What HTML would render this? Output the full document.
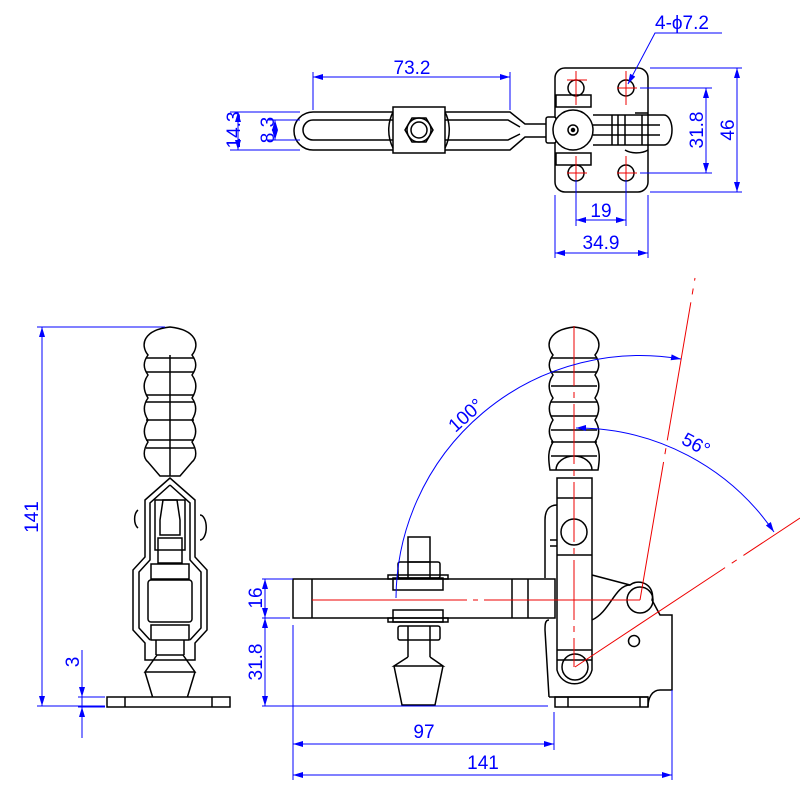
<!DOCTYPE html>
<html><head><style>body{margin:0;background:#fff}svg{display:block}</style></head><body>
<svg width="800" height="800" viewBox="0 0 800 800" xmlns="http://www.w3.org/2000/svg" font-family="Liberation Sans, sans-serif">
<defs>
<marker id="a" viewBox="0 0 10 6" refX="10" refY="3" markerWidth="14" markerHeight="6" markerUnits="userSpaceOnUse" orient="auto-start-reverse"><path d="M0,0L10,3L0,6z" fill="#00f"/></marker>
</defs>
<g fill="none" stroke="#000" stroke-width="1.5">
<!-- TOP VIEW -->
<path d="M313,112 H510 L525,124 H555 M313,150 H510 L525,137 H555 M313,112 A19,19 0 0 0 313,150"/>
<path d="M313,120 H508 L520,127 M313,140 H508 L520,134 M313,120 A10,10 0 0 0 313,140"/>
<rect x="393" y="107" width="52" height="46" fill="#fff"/>
<path d="M393,112 A40,40 0 0 0 393,148 M445,112 A40,40 0 0 1 445,148"/>
<polygon points="405,130 412,118 426,118 433,130 426,142 412,142" fill="#fff"/>
<circle cx="419" cy="130" r="12"/><circle cx="419" cy="130" r="8"/>
<rect x="555" y="68" width="93" height="124" rx="10" fill="#fff"/>
<rect x="556" y="95" width="35" height="12" fill="#fff"/><rect x="556" y="153" width="35" height="12" fill="#fff"/>
<circle cx="576" cy="88" r="8"/><circle cx="626" cy="88" r="8"/><circle cx="576" cy="173" r="8"/><circle cx="626" cy="173" r="8"/>
<path d="M593,115 H664 A8,15 0 0 1 664,145 H593 M612,115 V145 M618,115 V145 M625,115 V145 M642,115 V145 M593,125 H660 M593,135 H660 M635,113 H648 M625,150 A15,8 0 0 0 648,150"/>
<rect x="546" y="117" width="10" height="26" rx="2" fill="#fff"/>
<circle cx="573" cy="130" r="20" fill="#fff"/><circle cx="573" cy="130" r="5"/><circle cx="573" cy="130" r="1.5" fill="#000"/>
<!-- FRONT VIEW (left) -->
<path d="M148,355 C140,345 143,330 170,327 C197,330 200,345 192,355 C197,362 197,368 192,375 C197,382 197,390 192,398 C197,405 197,412 192,420 C197,428 197,435 192,442 C197,450 197,458 192,462 L180,476 H160 L148,462 C143,458 143,450 148,442 C143,435 143,428 148,420 C143,412 143,405 148,398 C143,390 143,382 148,375 C143,368 143,362 148,355 Z"/>
<path d="M146,358 H194 M146,372 H194 M146,395 H194 M146,402 H194 M146,420 H194 M146,440 H194 M146,448 H194 M170,355 V476"/>
<path d="M170,478 L145,500 V557 L133,570 V630 L145,643 V660 H195 V643 L207,630 V570 L195,557 V500 Z"/>
<path d="M170,485 L150,503 V560 L139,572 V628 L150,640 M170,485 L190,503 V560 L201,572 V628 L190,640"/>
<rect x="155" y="500" width="30" height="50"/>
<path d="M163,500 L160,520 V535 H180 V520 L177,500 Z"/>
<rect x="158" y="538" width="24" height="25"/>
<rect x="151" y="564" width="38" height="15"/>
<rect x="148" y="580" width="44" height="42" rx="3"/>
<rect x="151" y="625" width="38" height="15"/>
<path d="M156,640 V655 M184,640 V655 M157,655 L145,672 H195 L183,655 Z M145,672 L155,705 H185 L195,672"/>
<rect x="107" y="697" width="123" height="10" fill="#fff"/>
<path d="M125,697 V707 M212,697 V707"/>
<path d="M138,510 A6,10 0 0 0 138,528 M200,515 A6,12 0 0 1 200,540"/>
<!-- SIDE VIEW -->
<path d="M553,355 C545,345 548,330 574,327 C600,330 603,345 595,355 C600,362 600,368 595,375 C600,382 600,390 595,398 C600,405 600,412 595,420 C600,428 600,435 595,442 C600,450 600,458 598,470 H550 C548,458 548,450 553,442 C548,435 548,428 553,420 C548,412 548,405 553,398 C548,390 548,382 553,375 C548,368 548,362 553,355 Z"/>
<path d="M551,358 H597 M551,372 H597 M551,386 H597 M551,402 H597 M551,416 H597 M551,430 H597 M551,442 H597 M551,456 H597 M556,470 A18,14 0 0 1 592,470"/>
<path d="M592,600 L592,478 H557 V600 M557,498 H592 M557,555 H592 M557,650 H592 M557,660 H592"/>
<path d="M557,505 C548,505 545,512 545,520 V578 M550,540 H557 M550,546 H557"/>
<circle cx="574" cy="532" r="13"/>
<path d="M592,575 L630,585 A14,14 0 0 1 652,600 L660,615 H672 V690 H660 C652,690 648,698 648,707 M592,620 C610,612 615,585 630,585"/>
<path d="M549,620 C545,620 545,625 545,630 L549,697 M549,697 H648"/>
<path d="M592,600 V670 A18,18 0 0 1 557,670 V600"/>
<rect x="555" y="697" width="93" height="10"/>
<path d="M568,697 V707 M640,697 V707"/>
<circle cx="640" cy="600" r="13"/><circle cx="575" cy="667" r="13"/><circle cx="634" cy="641" r="5.5"/>
<rect x="293" y="579" width="262" height="39" fill="#fff"/>
<path d="M312,579 V618 M512,579 V618 M528,579 V618"/>
<rect x="408" y="537" width="22" height="25"/>
<rect x="398" y="562" width="42" height="16" rx="2"/>
<path d="M408,562 V578 M430,562 V578"/>
<rect x="388" y="575" width="60" height="4"/>
<rect x="393" y="578" width="50" height="12"/>
<rect x="393" y="610" width="50" height="12"/>
<rect x="388" y="618" width="60" height="4"/>
<rect x="398" y="626" width="42" height="14" rx="2"/>
<path d="M408,626 V640 M430,626 V640"/>
<path d="M408,640 V657 M430,640 V657 M408,657 L394,666 H443 L430,657 M394,666 L402,705 H435 L443,666"/>
</g>
<!-- red centerlines -->
<g stroke="#e00" stroke-width="1" fill="none">
<path d="M567,80 H587 M576,71 V105 M617,88 H637 M626,71 V105 M567,173 H587 M576,156 V190 M617,173 H637 M626,156 V190"/>
<path d="M574,326 V667" stroke-dasharray="60,6,6,6"/>
<path d="M312,600 H467 M473,600 H478 M484,600 H640"/>
<path d="M640,600 L695,278" stroke-dasharray="140,8,6,8"/>
<path d="M575,667 L800,518" stroke-dasharray="180,8,6,8"/>
</g>
<!-- blue dimensions -->
<g stroke="#00f" stroke-width="1" fill="none">
<path d="M313,72 V110 M510,72 V110"/>
<path d="M313,77 H510" marker-start="url(#a)" marker-end="url(#a)"/>
<path d="M230,112 H300 M230,150 H300 M268,120 H300 M268,140 H300"/>
<path d="M238,112 V150" marker-start="url(#a)" marker-end="url(#a)"/>
<path d="M275,120 V140" marker-start="url(#a)" marker-end="url(#a)"/>
<path d="M640,88 H712 M640,173 H712 M650,68 H742 M650,192 H742"/>
<path d="M706,88 V173" marker-start="url(#a)" marker-end="url(#a)"/>
<path d="M737,68 V192" marker-start="url(#a)" marker-end="url(#a)"/>
<path d="M576,180 V226 M626,180 V226 M555,195 V258 M648,195 V258"/>
<path d="M576,220 H626" marker-start="url(#a)" marker-end="url(#a)"/>
<path d="M555,253 H648" marker-start="url(#a)" marker-end="url(#a)"/>
<path d="M722,33 H655 L628,84" marker-end="url(#a)"/>
<path d="M37,327 H165 M37,706 H105"/>
<path d="M42,327 V706" marker-start="url(#a)" marker-end="url(#a)"/>
<path d="M82,650 V738"/>
<path d="M82,680 V697" marker-end="url(#a)"/><path d="M82,723 V707" marker-end="url(#a)"/>
<path d="M78,697 H105 M78,707 H105"/>
<path d="M262,579 H293 M262,706 H548 M293,625 V780 M554,712 V750 M672,690 V780"/>
<path d="M265,579 V618" marker-start="url(#a)" marker-end="url(#a)"/>
<path d="M265,618 V706" marker-start="url(#a)" marker-end="url(#a)"/>
<path d="M262,618 H290"/>
<path d="M293,744 H554" marker-start="url(#a)" marker-end="url(#a)"/>
<path d="M293,775 H672" marker-start="url(#a)" marker-end="url(#a)"/>
<path d="M396,598 A244,244 0 0 1 681,359" marker-end="url(#a)"/>
<path d="M576,428 A239,239 0 0 1 774,532" marker-start="url(#a)" marker-end="url(#a)"/>
</g>
<g fill="#00f" font-size="19">
<text x="412" y="74" text-anchor="middle">73.2</text>
<text x="655" y="29">4-ϕ7.2</text>
<text x="601" y="217" text-anchor="middle">19</text>
<text x="601" y="249" text-anchor="middle">34.9</text>
<text transform="translate(240,130) rotate(-90)" text-anchor="middle">14.3</text>
<text transform="translate(274,130) rotate(-90)" text-anchor="middle">8.3</text>
<text transform="translate(703,130) rotate(-90)" text-anchor="middle">31.8</text>
<text transform="translate(734,130) rotate(-90)" text-anchor="middle">46</text>
<text transform="translate(38,517) rotate(-90)" text-anchor="middle">141</text>
<text transform="translate(79,662) rotate(-90)" text-anchor="middle">3</text>
<text transform="translate(262,598) rotate(-90)" text-anchor="middle">16</text>
<text transform="translate(262,662) rotate(-90)" text-anchor="middle">31.8</text>
<text x="424" y="738" text-anchor="middle">97</text>
<text x="483" y="769" text-anchor="middle">141</text>
<text transform="translate(470,420) rotate(-42)" text-anchor="middle">100°</text>
<text transform="translate(693,450) rotate(28)" text-anchor="middle">56°</text>
</g>
</svg>
</body></html>
